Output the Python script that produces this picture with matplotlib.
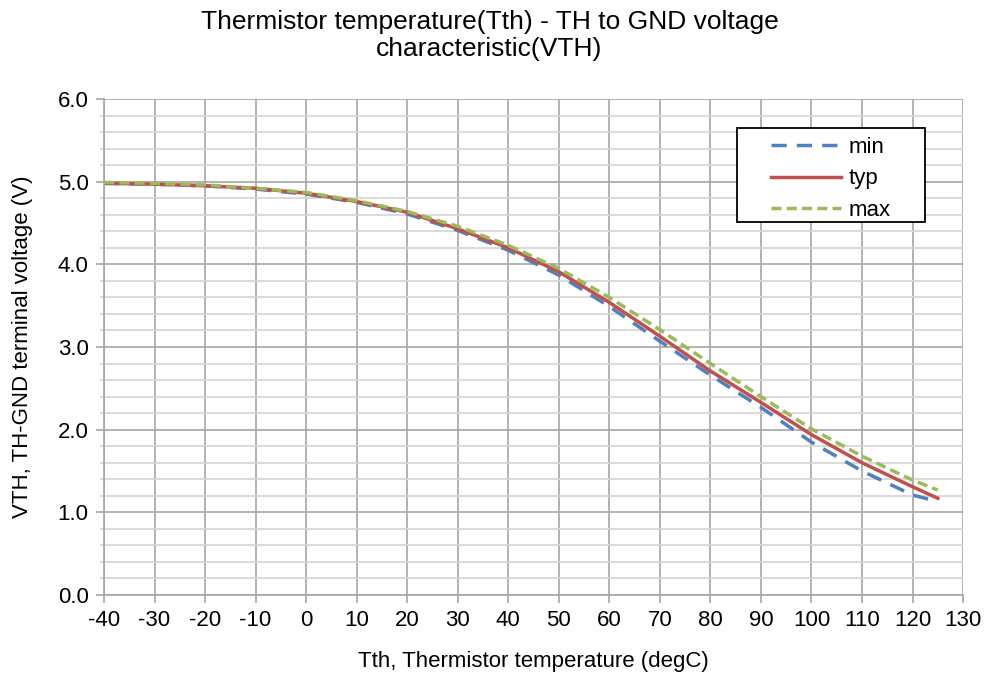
import matplotlib.pyplot as plt
import numpy as np

plt.rcParams['font.family'] = ['Liberation Sans', 'DejaVu Sans']
plt.rcParams['axes.unicode_minus'] = False

# data
temp = [-40, -30, -20, -10, 0, 10, 20, 30, 40, 50, 60, 70, 80, 90, 100, 110, 120, 125]
v_typ = [4.98, 4.97, 4.95, 4.92, 4.86, 4.76, 4.63, 4.43, 4.20, 3.91, 3.54, 3.13, 2.71, 2.33, 1.94, 1.60, 1.31, 1.17]
v_min = [4.98, 4.97, 4.95, 4.91, 4.85, 4.75, 4.61, 4.41, 4.17, 3.87, 3.49, 3.07, 2.66, 2.27, 1.85, 1.50, 1.21, 1.13]
v_max = [4.99, 4.98, 4.96, 4.92, 4.87, 4.77, 4.64, 4.46, 4.23, 3.95, 3.60, 3.21, 2.80, 2.40, 2.01, 1.68, 1.39, 1.27]

fig = plt.figure(figsize=(9.85, 6.74), dpi=100)
ax = fig.add_axes([0.1056, 0.1172, 0.8721, 0.7359])

ax.plot(temp, v_min, color='#4F81BD', lw=2.5, dashes=(4.4, 2.9), label='min')
ax.plot(temp, v_typ, color='#C0504D', lw=2.5, label='typ')
ax.plot(temp, v_max, color='#9BBB59', lw=2.5, dashes=(2.9, 1.5), label='max')

ax.set_xlim(-40, 130)
ax.set_ylim(0, 6)
ax.set_xticks(np.arange(-40, 131, 10))
ax.set_yticks(np.arange(0, 6.01, 1.0))
ax.set_yticks(np.arange(0, 6.01, 0.2), minor=True)
ax.set_yticklabels(['%.1f' % v for v in np.arange(0, 6.01, 1.0)])

ax.grid(which='major', color='#A6A6A6', lw=1.2)
ax.grid(which='minor', axis='y', color='#D4D4D4', lw=1.2)
ax.set_axisbelow(True)

for s in ['top', 'right']:
    ax.spines[s].set_visible(False)
for s in ['left', 'bottom']:
    ax.spines[s].set_color('#A6A6A6')
    ax.spines[s].set_linewidth(1.2)

ax.tick_params(which='major', length=6, color='#A6A6A6', width=1.2, labelsize=16, pad=5)
ax.tick_params(which='minor', axis='y', length=3, color='#D4D4D4', width=1.2)

ax.set_xlabel('Tth, Thermistor temperature (degC)', fontsize=16, labelpad=14)
ax.set_ylabel('VTH, TH-GND terminal voltage (V)', fontsize=16, labelpad=18)
fig.text(0.497, 0.985, 'Thermistor temperature(Tth) - TH to GND voltage\ncharacteristic(VTH)',
         fontsize=19, ha='center', va='top', linespacing=1.15)

# legend box with black border
box = plt.Rectangle((0.737, 0.752), 0.219, 0.19, transform=ax.transAxes,
                    facecolor='white', edgecolor='black', lw=1.3, zorder=4)
ax.add_patch(box)
leg = ax.legend(loc='center', bbox_to_anchor=(0.8465, 0.839), fontsize=16,
                frameon=False, handlelength=3.15, labelspacing=0.47,
                borderpad=0, handletextpad=0.35)
leg.set_zorder(5)

plt.savefig('out.png', dpi=100)
